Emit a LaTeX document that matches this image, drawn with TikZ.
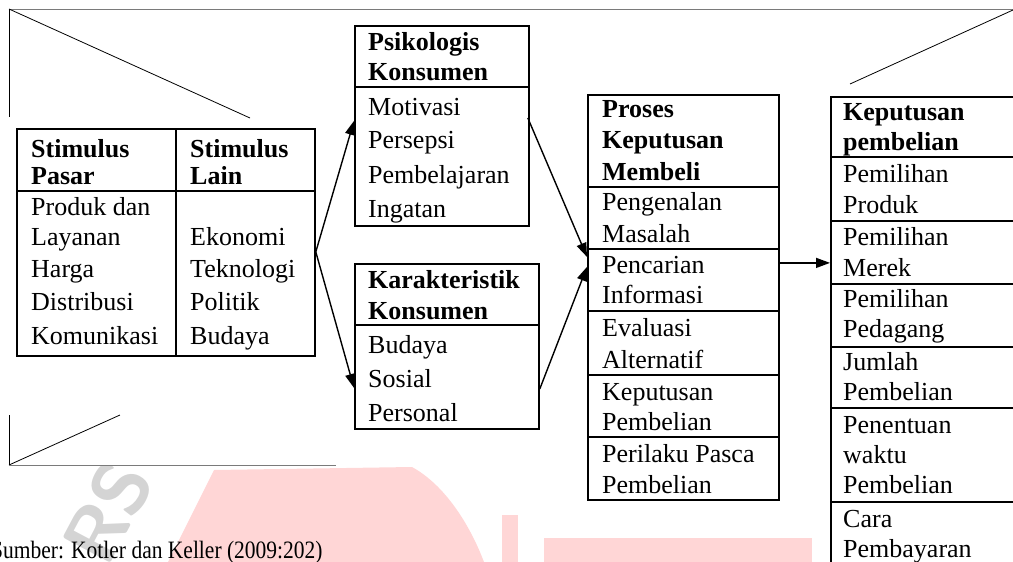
\documentclass[tikz,border=0pt]{standalone}
\usepackage{fontspec}
\setmainfont{Liberation Serif}
\usetikzlibrary{arrows.meta}
\definecolor{wmpink}{HTML}{FFD6D6}
\definecolor{wmgrey}{HTML}{D4D4D4}
\definecolor{framegrey}{HTML}{7A7A7A}
\begin{document}
\begin{tikzpicture}[x=1pt,y=-1pt,
  box/.style={draw, line width=1.8pt, anchor=north west, inner sep=0pt},
  txt/.style={anchor=base west, inner sep=0pt, font=\fontsize{26}{31}\selectfont},
  hd/.style={anchor=base west, inner sep=0pt, font=\fontsize{26}{31}\selectfont\bfseries},
  rule/.style={line width=1.6pt},
  arr/.style={line width=1.4pt, -{Triangle[length=14pt,width=10pt]}},
  thin/.style={line width=0.8pt},
  greyline/.style={framegrey, line width=1pt}]
\useasboundingbox (0,0) rectangle (1013,562);
\clip (0,0) rectangle (1013,562);

% background watermark
\fill[wmpink] (168,562) -- (214,470) -- (412,467)
  .. controls (445,485) and (470,525) .. (484,562) -- cycle;
\fill[wmpink] (502,515) rectangle (518,562);
\fill[wmpink] (544,538) rectangle (812,562);
\node[rotate=62, text=wmgrey, inner sep=0pt,
  font=\sffamily\bfseries\fontsize{78}{78}\selectfont] (wmark) at (108,512) {RS};
\fill[white] (0,0) rectangle (336,465);

% page frame strokes
\draw[greyline] (9,9) -- (1013,9);
\draw[thin] (9,9) -- (9,117);
\draw[thin] (9,9) -- (250,118);
\draw[thin] (1013,10) -- (850,84);
\draw[thin] (9,415) -- (9,465);
\draw[thin] (9,465) -- (120,415);
\draw[greyline] (9,465) -- (336,465);

% ---- stimulus table
\node[box, minimum width=298pt, minimum height=227pt] (stim) at (16,128) {};
\draw[rule] (176,128) -- (176,355);
\draw[rule] (stim.west |- 0,191) -- (stim.east |- 0,191);
\node[hd] (st1) at (31,157) {Stimulus};
\node[hd] (st2) at (31,184) {Pasar};
\node[hd] (st3) at (190,157) {Stimulus};
\node[hd] (st4) at (190,184) {Lain};
\node[txt] (sp1) at (31,215) {Produk dan};
\node[txt] (sp2) at (31,245) {Layanan};
\node[txt] (sp3) at (31,277) {Harga};
\node[txt] (sp4) at (31,310) {Distribusi};
\node[txt] (sp5) at (31,344) {Komunikasi};
\node[txt] (sl1) at (190,245) {Ekonomi};
\node[txt] (sl2) at (190,277) {Teknologi};
\node[txt] (sl3) at (190,310) {Politik};
\node[txt] (sl4) at (190,344) {Budaya};

% ---- psikologis konsumen
\node[box, minimum width=174pt, minimum height=200pt] (psy) at (354,25) {};
\draw[rule] (psy.west |- 0,87) -- (psy.east |- 0,87);
\node[hd] (ps1) at (368,50) {Psikologis};
\node[hd] (ps2) at (368,80) {Konsumen};
\node[txt] (ps3) at (368,115) {Motivasi};
\node[txt] (ps4) at (368,148) {Persepsi};
\node[txt] (ps5) at (368,183) {Pembelajaran};
\node[txt] (ps6) at (368,217) {Ingatan};

% ---- karakteristik konsumen
\node[box, minimum width=184pt, minimum height=165pt] (kar) at (354,263) {};
\draw[rule] (kar.west |- 0,325) -- (kar.east |- 0,325);
\node[hd] (ka1) at (368,288) {Karakteristik};
\node[hd] (ka2) at (368,319) {Konsumen};
\node[txt] (ka3) at (368,353) {Budaya};
\node[txt] (ka4) at (368,387) {Sosial};
\node[txt] (ka5) at (368,421) {Personal};

% ---- proses keputusan membeli
\node[box, minimum width=191pt, minimum height=405pt] (pro) at (587,94) {};
\foreach \yy in {187,249,311,375,437}
  \draw[rule] (pro.west |- 0,\yy) -- (pro.east |- 0,\yy);
\node[hd] (pr1) at (602,117) {Proses};
\node[hd] (pr2) at (602,148) {Keputusan};
\node[hd] (pr3) at (602,180) {Membeli};
\node[txt] (pr4) at (602,210) {Pengenalan};
\node[txt] (pr5) at (602,242) {Masalah};
\node[txt] (pr6) at (602,273) {Pencarian};
\node[txt] (pr7) at (602,303) {Informasi};
\node[txt] (pr8) at (602,336) {Evaluasi};
\node[txt] (pr9) at (602,368) {Alternatif};
\node[txt] (pr10) at (602,400) {Keputusan};
\node[txt] (pr11) at (602,430) {Pembelian};
\node[txt] (pr12) at (602,462) {Perilaku Pasca};
\node[txt] (pr13) at (602,493) {Pembelian};

% ---- keputusan pembelian
\node[box, minimum width=200pt, minimum height=504pt] (kep) at (830,96) {};
\foreach \yy in {157,221,284,347,408,502}
  \draw[rule] (kep.west |- 0,\yy) -- (kep.east |- 0,\yy);
\node[hd] (kp1) at (843,120) {Keputusan};
\node[hd] (kp2) at (843,150) {pembelian};
\node[txt] (kp3) at (843,182) {Pemilihan};
\node[txt] (kp4) at (843,213) {Produk};
\node[txt] (kp5) at (843,245) {Pemilihan};
\node[txt] (kp6) at (843,276) {Merek};
\node[txt] (kp7) at (843,307) {Pemilihan};
\node[txt] (kp8) at (843,337) {Pedagang};
\node[txt] (kp9) at (843,370) {Jumlah};
\node[txt] (kp10) at (843,400) {Pembelian};
\node[txt] (kp11) at (843,433) {Penentuan};
\node[txt] (kp12) at (843,463) {waktu};
\node[txt] (kp13) at (843,493) {Pembelian};
\node[txt] (kp14) at (843,527) {Cara};
\node[txt] (kp15) at (843,557) {Pembayaran};

% ---- connectors
\coordinate (fork) at ([yshift=-9.5pt]stim.east);
\coordinate (pOut) at ([yshift=34.5pt]pro.east);
\draw[arr] (fork) -- ([yshift=5pt]psy.west);
\draw[arr] (fork) -- ([yshift=-41.5pt]kar.west);
\draw[arr] ([shift={(-2pt,8pt)}]psy.east) -- ([yshift=40.5pt]pro.west);
\draw[arr] ([yshift=-42.5pt]kar.east) -- ([yshift=30.5pt]pro.west);
\draw[arr] (pOut) -- (pOut -| kep.west);

% source line
\node[anchor=base west, inner sep=0pt, font=\fontsize{25}{30}\selectfont]
  (src) at (-9,558) {\scalebox{0.86}[1]{Sumber: Kotler dan Keller (2009:202)}};
\end{tikzpicture}
\end{document}
